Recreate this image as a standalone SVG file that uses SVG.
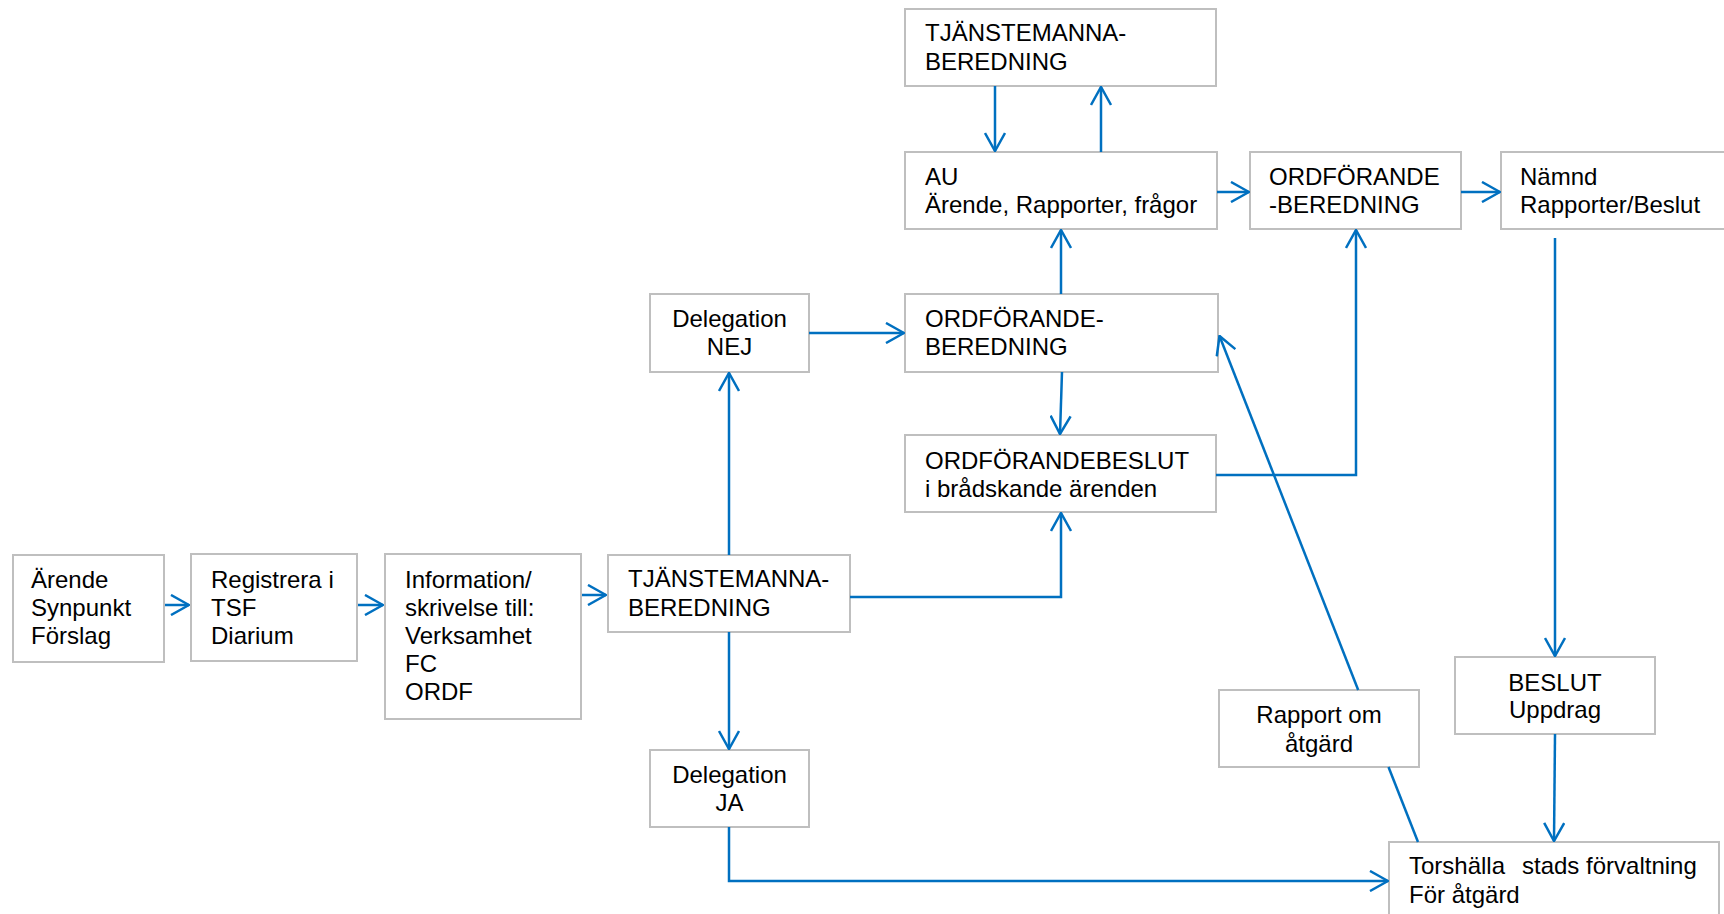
<svg xmlns="http://www.w3.org/2000/svg" width="1724" height="914" viewBox="0 0 1724 914">
<defs>
<style>
.box{fill:#fff;stroke:#BFBFBF;stroke-width:2}
.t{font-family:"Liberation Sans",Arial,sans-serif;font-size:24px;fill:#000}
.c{text-anchor:middle}
.ln{fill:none;stroke:#0070C0;stroke-width:2.5}
.ar{marker-end:url(#arr)}
</style>
<marker id="arr" markerUnits="userSpaceOnUse" viewBox="0 0 20 22" markerWidth="20" markerHeight="22" refX="19" refY="11" orient="auto">
<path d="M1,1 L19,11 L1,21" fill="none" stroke="#0070C0" stroke-width="2.5"/>
</marker>
</defs>
<rect width="1724" height="914" fill="#fff"/>
<g id="n-arende"><rect class="box" x="13" y="555" width="151" height="107"/>
<text class="t" x="31" y="588">Ärende</text><text class="t" x="31" y="616">Synpunkt</text><text class="t" x="31" y="644">Förslag</text></g>
<g id="n-registrera"><rect class="box" x="191" y="554" width="166" height="107"/>
<text class="t" x="211" y="588">Registrera i</text><text class="t" x="211" y="616">TSF</text><text class="t" x="211" y="644">Diarium</text></g>
<g id="n-information"><rect class="box" x="385" y="554" width="196" height="165"/>
<text class="t" x="405" y="588">Information/</text><text class="t" x="405" y="616">skrivelse till:</text><text class="t" x="405" y="644">Verksamhet</text><text class="t" x="405" y="672">FC</text><text class="t" x="405" y="700">ORDF</text></g>
<g id="n-tjanst-bottom"><rect class="box" x="608" y="555" width="242" height="77"/>
<text class="t" x="628" y="587">TJÄNSTEMANNA-</text><text class="t" x="628" y="616">BEREDNING</text></g>
<g id="n-deleg-nej"><rect class="box" x="650" y="294" width="159" height="78"/>
<text class="t c" x="729.5" y="327">Delegation</text><text class="t c" x="729.5" y="355">NEJ</text></g>
<g id="n-deleg-ja"><rect class="box" x="650" y="750" width="159" height="77"/>
<text class="t c" x="729.5" y="783">Delegation</text><text class="t c" x="729.5" y="811">JA</text></g>
<g id="n-ordf-mid"><rect class="box" x="905" y="294" width="313" height="78"/>
<text class="t" x="925" y="327">ORDFÖRANDE-</text><text class="t" x="925" y="355">BEREDNING</text></g>
<g id="n-ordf-beslut"><rect class="box" x="905" y="435" width="311" height="77"/>
<text class="t" x="925" y="469">ORDFÖRANDEBESLUT</text><text class="t" x="925" y="497">i brådskande ärenden</text></g>
<g id="n-au"><rect class="box" x="905" y="152" width="312" height="77"/>
<text class="t" x="925" y="185">AU</text><text class="t" x="925" y="213">Ärende, Rapporter, frågor</text></g>
<g id="n-tjanst-top"><rect class="box" x="905" y="9" width="311" height="77"/>
<text class="t" x="925" y="41">TJÄNSTEMANNA-</text><text class="t" x="925" y="70">BEREDNING</text></g>
<g id="n-ordf-right"><rect class="box" x="1250" y="152" width="211" height="77"/>
<text class="t" x="1269" y="185">ORDFÖRANDE</text><text class="t" x="1269" y="213">-BEREDNING</text></g>
<g id="n-namnd"><rect class="box" x="1501" y="152" width="232" height="77"/>
<text class="t" x="1520" y="185">Nämnd</text><text class="t" x="1520" y="213">Rapporter/Beslut</text></g>
<g id="n-beslut"><rect class="box" x="1455" y="657" width="200" height="77"/>
<text class="t c" x="1555" y="691">BESLUT</text><text class="t c" x="1555" y="718">Uppdrag</text></g>
<g id="n-rapport"><rect class="box" x="1219" y="690" width="200" height="77"/>
<text class="t c" x="1319" y="723">Rapport om</text><text class="t c" x="1319" y="752">åtgärd</text></g>
<g id="n-torshalla"><rect class="box" x="1389" y="842" width="330" height="90"/>
<text class="t" y="874"><tspan x="1409">Torshälla</tspan><tspan x="1522">stads förvaltning</tspan></text><text class="t" x="1409" y="903">För åtgärd</text></g>
<g id="connectors">
<path class="ln ar" d="M165,605 H189"/>
<path class="ln ar" d="M358,605 H383"/>
<path class="ln ar" d="M582,595 H606"/>
<path class="ln ar" d="M729,555 V373"/>
<path class="ln ar" d="M729,632 V749"/>
<path class="ln ar" d="M850,597 H1061 V513"/>
<path class="ln ar" d="M809,333 H904"/>
<path class="ln ar" d="M1062,372 L1060,434"/>
<path class="ln ar" d="M1061,294 V230"/>
<path class="ln ar" d="M995,86 V151"/>
<path class="ln ar" d="M1101,152 V87"/>
<path class="ln ar" d="M1217,192 H1249"/>
<path class="ln ar" d="M1216,475 H1356 V230"/>
<path class="ln ar" d="M1461,192 H1500"/>
<path class="ln ar" d="M1555,238 V656"/>
<path class="ln ar" d="M1555,734 L1554,841"/>
<path class="ln ar" d="M729,827 V881 H1388"/>
<path class="ln" d="M1418,842 L1388.5,767"/>
<path class="ln ar" d="M1358.2,690 L1219.5,336"/>
</g>
</svg>
